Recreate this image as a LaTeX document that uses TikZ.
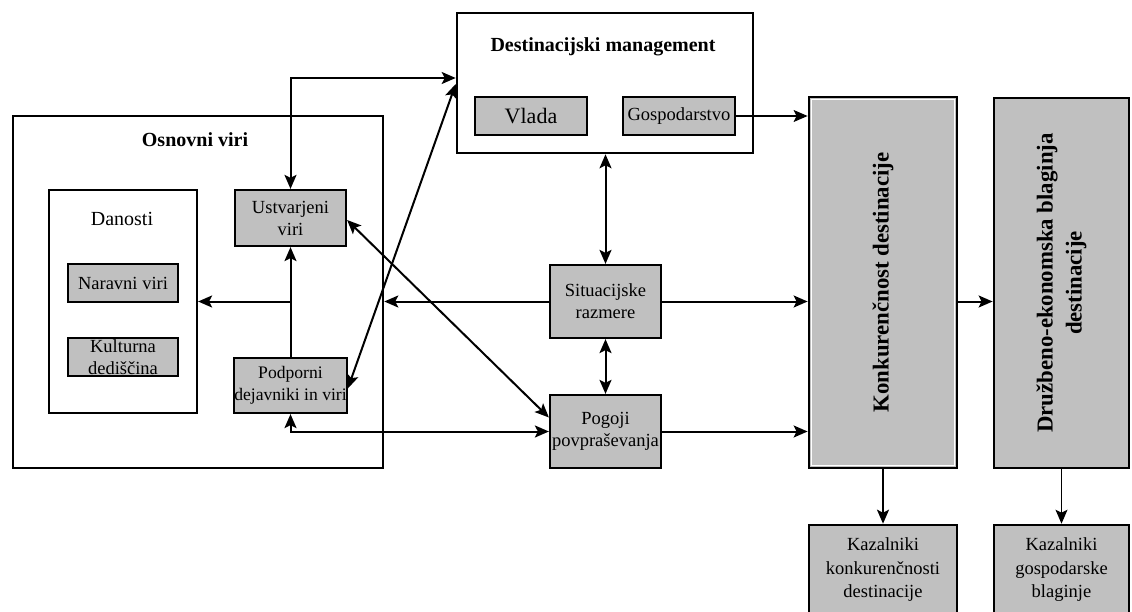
\documentclass[tikz,border=0pt]{standalone}
\usepackage{fontspec}
\setmainfont{Liberation Serif}
\usetikzlibrary{arrows.meta}
\definecolor{boxgray}{RGB}{192,192,192}

\begin{document}
\begin{tikzpicture}[x=1pt, y=-1pt,
		>={Stealth[length=14pt,width=12pt,inset=3pt]},
		txt/.style={font=\fontsize{18.5}{22}\selectfont, align=center},
		kaztxt/.style={font=\fontsize{18.5}{23.5}\selectfont, align=center},
		bigtxt/.style={font=\fontsize{22.8}{29}\selectfont\bfseries, align=center},
		title/.style={font=\fontsize{20}{24}\selectfont\bfseries},
		frame/.style={draw, line width=2.6pt, inner sep=0pt},
		graybox/.style={draw, fill=boxgray, line width=2.2pt, inner sep=0pt, txt},
		bigbox/.style={draw, fill=boxgray, line width=2.8pt, inner sep=0pt},
		conn/.style={line width=2pt},
		thinconn/.style={line width=1.1pt}]
			\fill [white] (0,0) rectangle (1132,612);
			\useasboundingbox (0,0) rectangle (1132,612);
			\clip (0,0) rectangle (1132,612);

			\node [frame, minimum width=370, minimum height=352] (osnovni) at (198,292) {};
			\node [title] (osnovnititle) at (195,140) {Osnovni viri};
			\node [frame, line width=2.2pt, minimum width=148, minimum height=223] (danosti) at (123,301.5) {};
			\node [font=\fontsize{20}{24}\selectfont] (danostititle) at (122,219) {Danosti};
			\node [graybox, minimum width=110, minimum height=38] (naravni) at (123,283) {Naravni viri};
			\node [graybox, minimum width=110, minimum height=38, label={[txt, font=\fontsize{18.5}{21.5}\selectfont]center:Kulturna\\dediščina}] (kulturna) at (123,357) {};
			\node [graybox, minimum width=111, minimum height=56] (ustvarjeni) at (290.5,218) {Ustvarjeni\\viri};
			\node [graybox, font=\fontsize{17.6}{22}\selectfont, minimum width=111, minimum height=55] (podporni) at (290.5,385.5) {Podporni\\dejavniki in viri};

			\node [frame, minimum width=296, minimum height=140] (destman) at (605,83) {};
			\node [title] (desttitle) at (603,47) {Destinacijski management};
			\node [graybox, minimum width=112, minimum height=38, font=\fontsize{22}{26}\selectfont] (vlada) at (531,116) {Vlada};
			\node [graybox, minimum width=112, minimum height=38] (gospod) at (679,116) {Gospodarstvo};

			\node [graybox, minimum width=111, minimum height=73] (situ) at (605.5,301.5) {Situacijske\\razmere};
			\node [graybox, minimum width=111, minimum height=73] (pogoji) at (605.5,431.5) {Pogoji\\povpraševanja};

			\node [bigbox, minimum width=148, minimum height=371, label={[rotate=90, bigtxt]center:Konkurenčnost destinacije}] (konk) at (883,282.5) {};
			\draw [white, line width=1pt] ([shift={(4,4)}]konk.north west) rectangle ([shift={(-4,-4)}]konk.south east);
			\node [bigbox, minimum width=135, minimum height=370, label={[rotate=90, bigtxt]center:Družbeno-ekonomska blaginja\\destinacije}] (druzb) at (1061.5,283) {};

			\node [graybox, kaztxt, line width=2.6pt, minimum width=148, minimum height=90] (kazkonk) at (883,570) {Kazalniki\\konkurenčnosti\\destinacije};
			\node [graybox, kaztxt, line width=2.6pt, minimum width=135, minimum height=90] (kazgosp) at (1061.5,570) {Kazalniki\\gospodarske\\blaginje};

			\draw [conn, <->] (ustvarjeni.north) |- ([yshift=5pt]destman.west);
			\draw [conn, <->] ([yshift=-3pt]podporni.east) -- ([yshift=-1pt]destman.west);
			\draw [conn, <->] ([yshift=-2pt]ustvarjeni.east) -- ([yshift=14pt]pogoji.west);
			\draw [conn, <->] (podporni.south) |- (pogoji.west);
			\draw [conn, ->] (podporni.north) -- (ustvarjeni.south);
			\draw [conn, ->] (podporni.north |- danosti.east) -- (danosti.east);
			\draw [conn, ->] (situ.west) -- (situ.west -| osnovni.east);
			\draw [conn, <->] (situ.north |- destman.south) -- (situ.north);
			\draw [conn, <->] (situ.south) -- (pogoji.north);
			\draw [conn, ->] (situ.east) -- (situ.east -| konk.west);
			\draw [conn, ->] (pogoji.east) -- (pogoji.east -| konk.west);
			\draw [thinconn, ->] (gospod.east) -- (gospod.east -| konk.west);
			\draw [conn, ->] (situ.east -| konk.east) -- (situ.east -| druzb.west);
			\draw [conn, ->] (konk.south) -- (kazkonk.north);
			\draw [thinconn, ->] (druzb.south) -- (kazgosp.north);
	\end{tikzpicture}
\end{document}
